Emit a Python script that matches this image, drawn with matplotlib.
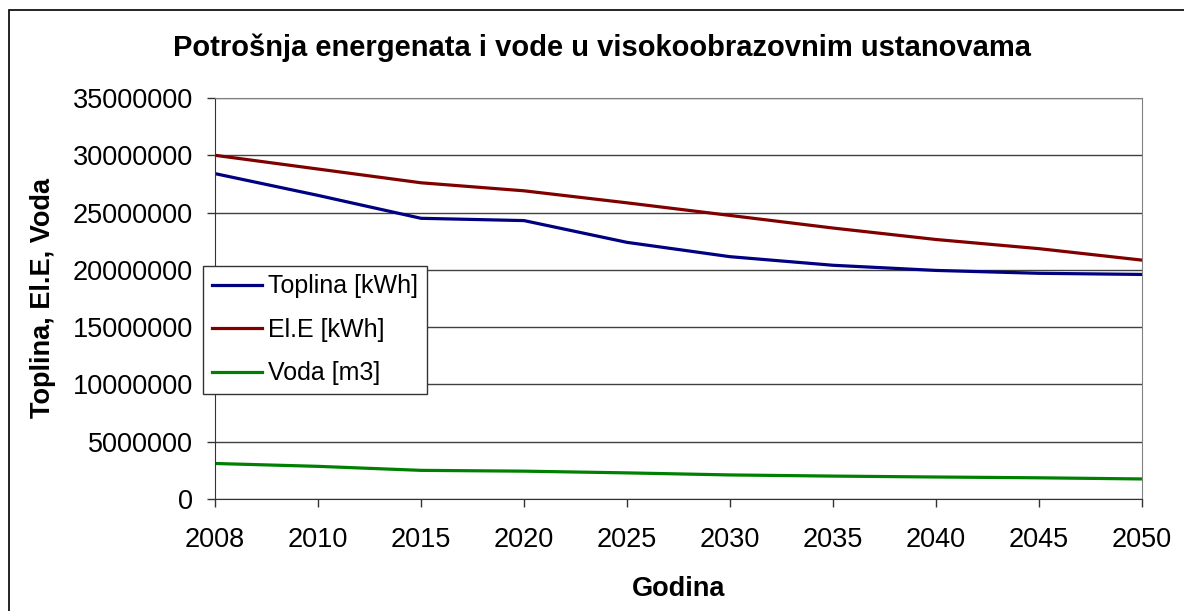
import matplotlib
matplotlib.use("Agg")
import matplotlib.pyplot as plt
from matplotlib.patches import Rectangle

years = ["2008", "2010", "2015", "2020", "2025", "2030", "2035", "2040", "2045", "2050"]
toplina = [28400000, 26500000, 24500000, 24300000, 22400000, 21150000, 20400000, 19950000, 19700000, 19600000]
ele = [30000000, 28800000, 27600000, 26900000, 25850000, 24750000, 23650000, 22650000, 21850000, 20850000]
voda = [3100000, 2850000, 2500000, 2430000, 2280000, 2100000, 2000000, 1920000, 1850000, 1750000]

plt.rcParams['font.family'] = ['Liberation Sans', 'DejaVu Sans']

fig = plt.figure(figsize=(11.84, 6.11), dpi=100)
fig.patches.append(Rectangle((9/1184, -0.01), 1.1, 1 - 10/611 + 0.01, transform=fig.transFigure,
                             fill=False, edgecolor='black', linewidth=1.2))
ax = fig.add_axes([215/1184, 112/611, 927/1184, 401/611])

x = list(range(len(years)))
ax.plot(x, toplina, color='#000080', lw=2.3, label='Toplina [kWh]')
ax.plot(x, ele, color='#800000', lw=2.3, label='El.E [kWh]')
ax.plot(x, voda, color='#008000', lw=2.3, label='Voda [m3]')

ax.set_xlim(0, len(years) - 1)
ax.set_ylim(0, 35000000)
ax.set_xticks(x)
ax.set_xticklabels(years)
yt = list(range(0, 35000001, 5000000))
ax.set_yticks(yt)
ax.set_yticklabels([str(v) for v in yt])
ax.yaxis.grid(True, color='#404040', lw=1.0)
ax.set_axisbelow(True)
ax.tick_params(axis='both', labelsize=19.5, direction='out', length=6, width=1, color='#333333')
ax.tick_params(axis='y', pad=10)
ax.tick_params(axis='x', pad=14)
for s in ['top', 'right']:
    ax.spines[s].set_color('#808080')
for s in ['left', 'bottom']:
    ax.spines[s].set_color('#333333')

fig.text(602/1184, 1 - 48/611, 'Potrošnja energenata i vode u visokoobrazovnim ustanovama',
         fontsize=21, fontweight='bold', ha='center', va='center')
ax.set_xlabel('Godina', fontsize=19.5, fontweight='bold', labelpad=17)
ax.set_ylabel('Toplina, El.E, Voda', fontsize=19.5, fontweight='bold', labelpad=12)

leg = ax.legend(loc='upper left', bbox_to_anchor=(-0.013, 0.582), fontsize=18, frameon=True,
                fancybox=False, edgecolor='#333333', framealpha=1, handlelength=2.0,
                handletextpad=0.25, labelspacing=0.78, borderpad=0.35, borderaxespad=0)
leg.get_frame().set_linewidth(1)

fig.savefig('out.png', dpi=100)
